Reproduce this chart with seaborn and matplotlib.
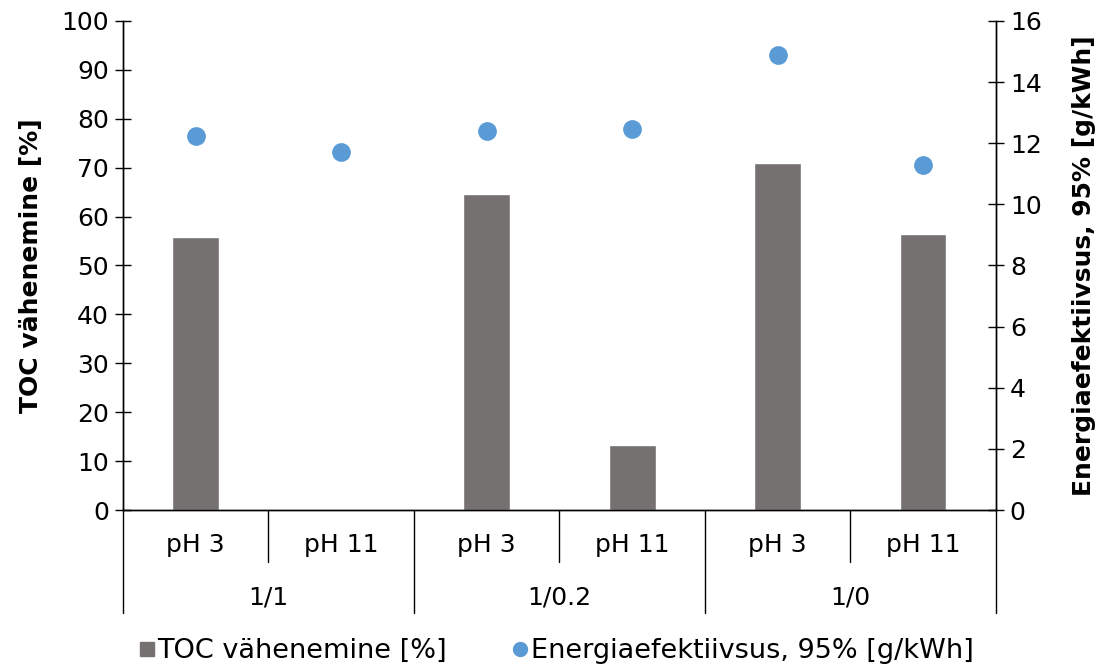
import matplotlib
matplotlib.use("Agg")
import matplotlib.pyplot as plt
import seaborn as sns
import pandas as pd
from matplotlib.lines import Line2D

groups = ["1/1", "1/0.2", "1/0"]
ph_labels = ["pH 3", "pH 11"]
toc = [55.8, 0.0, 64.6, 13.3, 71.0, 56.4]
energy = [12.24, 11.71, 12.40, 12.47, 14.89, 11.29]

cats = [f"{g} {p}" for g in groups for p in ph_labels]
df = pd.DataFrame({"cat": cats, "toc": toc, "energy": energy})

sns.set_theme(style="white")
plt.rcParams['font.family'] = ['DejaVu Sans']
plt.rcParams['text.color'] = 'black'
plt.rcParams['axes.labelcolor'] = 'black'

bar_color = "#767171"
dot_color = "#5B9BD5"
fs = 18

fig = plt.figure(figsize=(11.01, 6.68), dpi=100)
ax = fig.add_axes([0.1117, 0.2365, 0.7929, 0.7321])

sns.barplot(data=df, x="cat", y="toc", order=cats, color=bar_color,
            width=0.32, saturation=1, ax=ax)
ax.set_xlim(-0.5, 5.5)
ax.set_ylim(0, 100)
ax.set_yticks(range(0, 101, 10))
ax.set_xticks([])
ax.set_xlabel("")
ax.set_ylabel("TOC vähenemine [%]", fontsize=fs, fontweight="bold",
              labelpad=13, color="black")
ax.tick_params(axis="y", labelsize=fs, direction="inout", length=12, width=1,
               colors="black", left=True, pad=4)

ax2 = ax.twinx()
sns.stripplot(data=df, x="cat", y="energy", order=cats, color=dot_color,
              jitter=False, size=13.5, linewidth=0, ax=ax2, zorder=5)
ax2.set_xlim(-0.5, 5.5)
ax2.set_ylim(0, 16)
ax2.set_yticks(range(0, 17, 2))
ax2.set_xticks([])
ax2.set_xlabel("")
ax2.set_ylabel("Energiaefektiivsus, 95% [g/kWh]", fontsize=fs,
               fontweight="bold", labelpad=22, color="black", rotation=90)
ax2.tick_params(axis="y", labelsize=fs, direction="inout", length=12, width=1,
                colors="black", right=True, pad=4)

for a in (ax, ax2):
    for s in a.spines.values():
        s.set_color("black")
        s.set_linewidth(1)
    a.spines["top"].set_visible(False)
    a.grid(False)

# multi-level category axis
inner_depth = -0.106
outer_depth = -0.211
n = len(cats)
for k in range(n + 1):
    xf = k / n
    depth = outer_depth if k % 2 == 0 else inner_depth
    ax.plot([xf, xf], [0, depth], transform=ax.transAxes, color="black",
            lw=1, clip_on=False)
for i, c in enumerate(cats):
    ax.text((i + 0.5) / n, -0.072, ph_labels[i % 2], transform=ax.transAxes,
            ha="center", va="center", fontsize=fs, color="black")
for j, g in enumerate(groups):
    ax.text((2 * j + 1) / n, -0.178, g, transform=ax.transAxes,
            ha="center", va="center", fontsize=fs, color="black")

handles = [
    Line2D([], [], marker="s", color=bar_color, linestyle="none", markersize=10),
    Line2D([], [], marker="o", color=dot_color, linestyle="none", markersize=10),
]
leg = fig.legend(handles, ["TOC vähenemine [%]", "Energiaefektiivsus, 95% [g/kWh]"],
                 loc="center", bbox_to_anchor=(0.504, 0.025), ncol=2, frameon=False,
                 fontsize=19.5, handletextpad=0.0, columnspacing=2.3, handlelength=0.8)
for t in leg.get_texts():
    t.set_color("black")

fig.savefig("out.png", dpi=100)
